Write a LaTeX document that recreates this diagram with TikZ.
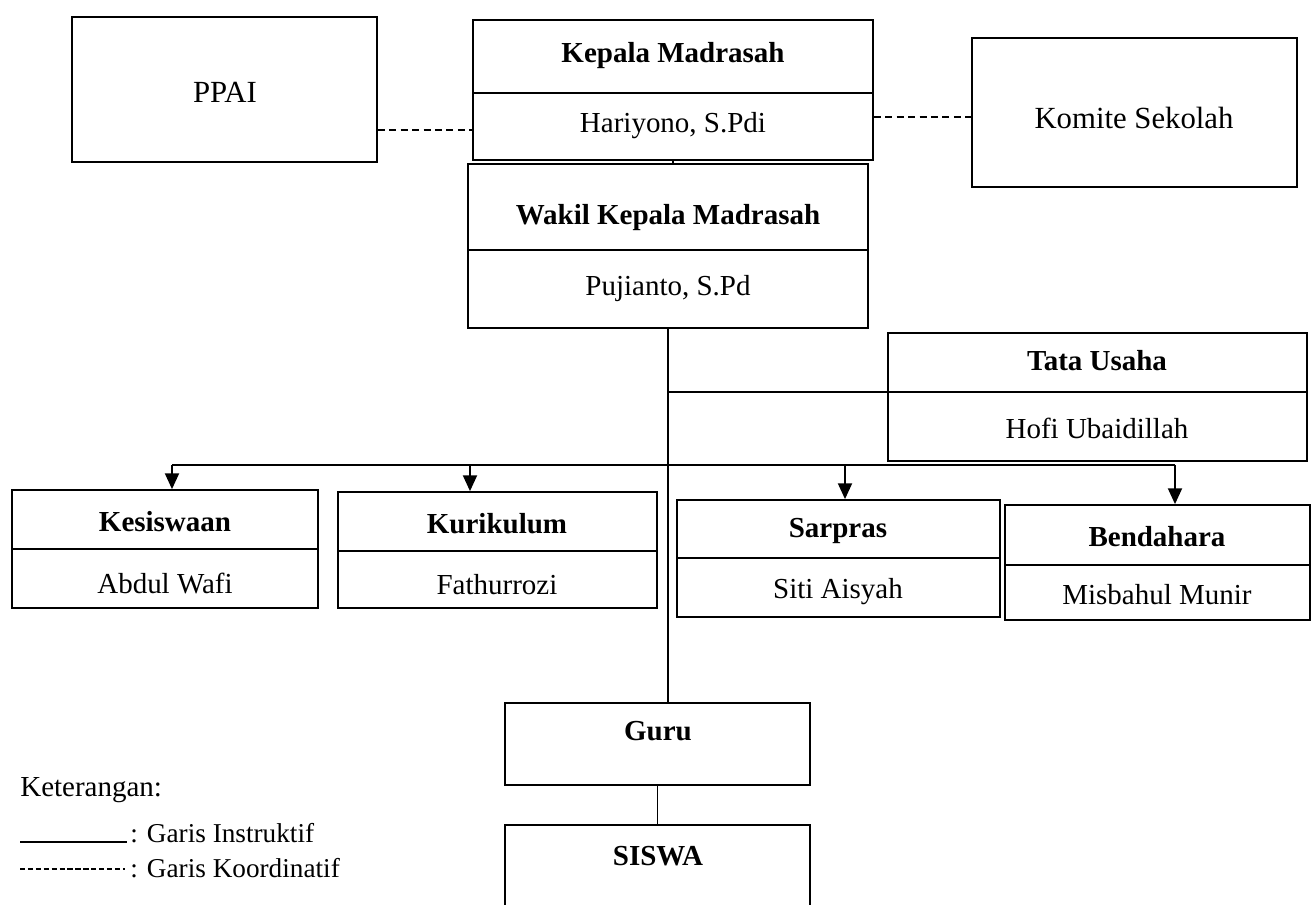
\documentclass[tikz,border=0pt]{standalone}
\usepackage{fontspec}
\setmainfont{Liberation Serif}
\usetikzlibrary{fit, arrows.meta}

\begin{document}
\begin{tikzpicture}[x=0.02cm, y=-0.02cm,
	kotak/.style={draw, line width=1pt, inner sep=0pt},
	judul/.style={font=\fontsize{16.5}{19}\selectfont\bfseries},
	isi/.style={font=\fontsize{16.5}{19}\selectfont},
	isibesar/.style={font=\fontsize{17.5}{20}\selectfont},
	ket/.style={font=\fontsize{15.5}{18}\selectfont, anchor=west, inner sep=0pt},
	garis/.style={line width=1pt},
	koord/.style={line width=1pt, dash pattern=on 4pt off 2.5pt},
	panah/.style={line width=1pt, -{Triangle[length=9pt,width=8pt]}}]
	
	\useasboundingbox (0,0) rectangle (1313,905);
	
	% Kotak samping (koordinatif)
	\node[kotak, fit={(72,17) (377,162)}] (ppai) {};
	\node[isibesar] (ppaiteks) at (225,92) {PPAI};
	\node[kotak, fit={(972,38) (1297,187)}] (komite) {};
	\node[isibesar] (komiteteks) at (1134,118) {Komite Sekolah};
	
	% Kepala Madrasah
	\node[kotak, fit={(473,20) (873,160)}] (kepala) {};
	\node[judul] (kepalajudul) at (673,56) {Kepala Madrasah};
	\node[isi] (kepalanama) at (673,126) {Hariyono, S.Pdi};
	\draw[garis] (kepala.west |- 0,93) -- (kepala.east |- 0,93);
	
	% Wakil Kepala Madrasah
	\node[kotak, fit={(468,164) (868,328)}] (wakil) {};
	\node[judul] (wakiljudul) at (668,218) {Wakil Kepala Madrasah};
	\node[isi] (wakilnama) at (668,289) {Pujianto, S.Pd};
	\draw[garis] (wakil.west |- 0,250) -- (wakil.east |- 0,250);
	
	% Tata Usaha
	\node[kotak, fit={(888,333) (1307,461)}] (tatausaha) {};
	\node[judul] (tatajudul) at (1097,361) {Tata Usaha};
	\node[isi] (tatanama) at (1097,428) {Hofi Ubaidillah};
	\draw[garis] (tatausaha.west |- 0,392) -- (tatausaha.east |- 0,392);
	
	% Bagian
	\node[kotak, fit={(12,490) (318,608)}] (kesiswaan) {};
	\node[judul] (kesiswaanjudul) at (165,522) {Kesiswaan};
	\node[isi] (kesiswaannama) at (165,584) {Abdul Wafi};
	\draw[garis] (kesiswaan.west |- 0,549) -- (kesiswaan.east |- 0,549);
	
	\node[kotak, fit={(338,492) (657,608)}] (kurikulum) {};
	\node[judul] (kurikulumjudul) at (497,524) {Kurikulum};
	\node[isi] (kurikulumnama) at (497,585) {Fathurrozi};
	\draw[garis] (kurikulum.west |- 0,551) -- (kurikulum.east |- 0,551);
	
	\node[kotak, fit={(677,500) (1000,617)}] (sarpras) {};
	\node[judul] (sarprasjudul) at (838,531) {Sarpras};
	\node[isi] (sarprasnama) at (838,592) {Siti Aisyah};
	\draw[garis] (sarpras.west |- 0,558) -- (sarpras.east |- 0,558);
	
	\node[kotak, fit={(1005,505) (1310,620)}] (bendahara) {};
	\node[judul] (bendaharajudul) at (1157,537) {Bendahara};
	\node[isi] (bendaharanama) at (1157,595) {Misbahul Munir};
	\draw[garis] (bendahara.west |- 0,565) -- (bendahara.east |- 0,565);
	
	% Guru dan siswa
	\node[kotak, fit={(505,703) (810,785)}] (guru) {};
	\node[judul] (gurujudul) at (658,731) {Guru};
	\node[kotak, fit={(505,825) (810,930)}] (siswa) {};
	\node[judul] (siswajudul) at (658,856) {SISWA};
	
	% Garis koordinatif
	\draw[koord] (ppai.east |- 0,130) -- (kepala.west |- 0,130);
	\draw[koord] (kepala.east |- 0,117) -- (komite.west |- 0,117);
	
	% Garis instruktif
	\draw[garis] (kepala.south) -- (kepala.south |- wakil.north);
	\draw[garis] (wakil.south) -- (wakil.south |- guru.north);
	\draw[garis] (wakil.south |- 0,392) -- (tatausaha.west |- 0,392);
	\draw[garis] (guru.south) -- (siswa.north);
	
	\coordinate (cabang1) at (172,465);
	\coordinate (cabang2) at (470,465);
	\coordinate (cabang3) at (845,465);
	\coordinate (cabang4) at (1175,465);
	\draw[garis] (cabang1) -- (cabang4);
	\draw[panah] (cabang1) -- (cabang1 |- kesiswaan.north);
	\draw[panah] (cabang2) -- (cabang2 |- kurikulum.north);
	\draw[panah] (cabang3) -- (cabang3 |- sarpras.north);
	\draw[panah] (cabang4) -- (cabang4 |- bendahara.north);
	
	% Keterangan
	\node[ket, font=\fontsize{16.5}{19}\selectfont] (keterangan) at (20,790) {Keterangan:};
	\coordinate (instrA) at (20,842);
	\coordinate (instrB) at (127,842);
	\draw[garis] (instrA) -- (instrB);
	\node[ket] (instrteks) at (130,833) {: Garis Instruktif};
	\coordinate (koordA) at (20,869);
	\coordinate (koordB) at (125,869);
	\draw[line width=1.2pt, dash pattern=on 3pt off 1.5pt] (koordA) -- (koordB);
	\node[ket] (koordteks) at (130,868) {: Garis Koordinatif};
	
\end{tikzpicture}
\end{document}
